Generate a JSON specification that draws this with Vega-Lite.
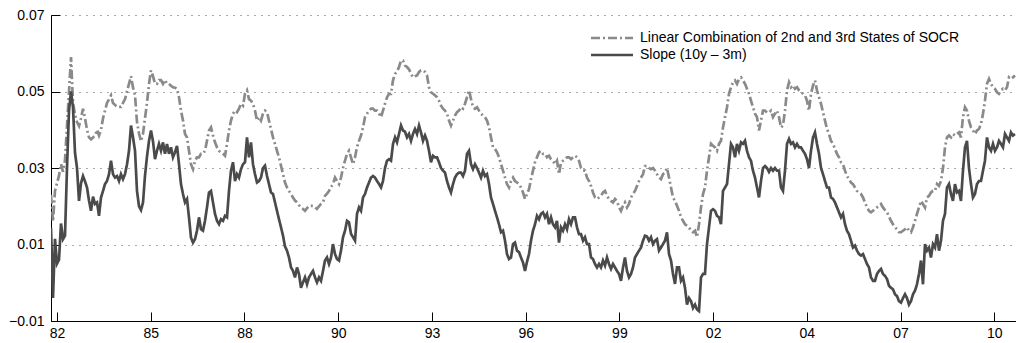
{
  "$schema": "https://vega.github.io/schema/vega-lite/v6.json",
  "width": 965,
  "height": 306,
  "autosize": {"type": "none"},
  "padding": {"left": 51, "top": 15, "right": 0, "bottom": 22},
  "background": "white",
  "config": {"view": {"stroke": null}, "font": "Liberation Sans"},
  "data": {"values": [
    {"t":1982.320,"s":0.0144,"c":0.023},{"t":1982.380,"s":-0.004,"c":0.016},{"t":1982.439,"s":0.0115,"c":0.024},{"t":1982.499,"s":0.005,"c":0.026},
    {"t":1982.559,"s":0.006,"c":0.028},{"t":1982.619,"s":0.0155,"c":0.031},{"t":1982.678,"s":0.0114,"c":0.029},{"t":1982.738,"s":0.0123,"c":0.032},
    {"t":1982.798,"s":0.030,"c":0.041},{"t":1982.858,"s":0.045,"c":0.050},{"t":1982.918,"s":0.050,"c":0.059},{"t":1982.977,"s":0.0459,"c":0.047},
    {"t":1983.037,"s":0.034,"c":0.044},{"t":1983.097,"s":0.030,"c":0.042},{"t":1983.157,"s":0.0214,"c":0.041},{"t":1983.216,"s":0.026,"c":0.043},
    {"t":1983.276,"s":0.0279,"c":0.0455},{"t":1983.336,"s":0.0265,"c":0.043},{"t":1983.396,"s":0.0249,"c":0.040},{"t":1983.455,"s":0.0215,"c":0.038},
    {"t":1983.515,"s":0.0188,"c":0.0375},{"t":1983.575,"s":0.0225,"c":0.038},{"t":1983.635,"s":0.0206,"c":0.0385},{"t":1983.694,"s":0.021,"c":0.040},
    {"t":1983.754,"s":0.0175,"c":0.0385},{"t":1983.814,"s":0.0223,"c":0.040},{"t":1983.874,"s":0.024,"c":0.043},{"t":1983.933,"s":0.0258,"c":0.045},
    {"t":1983.993,"s":0.0266,"c":0.047},{"t":1984.053,"s":0.0284,"c":0.048},{"t":1984.113,"s":0.0319,"c":0.049},{"t":1984.172,"s":0.0284,"c":0.047},
    {"t":1984.232,"s":0.0275,"c":0.0465},{"t":1984.292,"s":0.0279,"c":0.046},{"t":1984.352,"s":0.0266,"c":0.046},{"t":1984.411,"s":0.0284,"c":0.046},
    {"t":1984.471,"s":0.0271,"c":0.047},{"t":1984.531,"s":0.0284,"c":0.048},{"t":1984.591,"s":0.031,"c":0.050},{"t":1984.650,"s":0.0345,"c":0.052},
    {"t":1984.710,"s":0.0411,"c":0.054},{"t":1984.770,"s":0.038,"c":0.051},{"t":1984.830,"s":0.0345,"c":0.049},{"t":1984.889,"s":0.024,"c":0.042},
    {"t":1984.949,"s":0.020,"c":0.039},{"t":1985.009,"s":0.019,"c":0.037},{"t":1985.069,"s":0.021,"c":0.039},{"t":1985.128,"s":0.028,"c":0.043},
    {"t":1985.188,"s":0.033,"c":0.047},{"t":1985.248,"s":0.0371,"c":0.052},
    {"t":1985.307,"s":0.0398,"c":0.0555},{"t":1985.367,"s":0.037,"c":0.054},{"t":1985.427,"s":0.0323,"c":0.052},{"t":1985.486,"s":0.0345,"c":0.052},
    {"t":1985.546,"s":0.0363,"c":0.053},{"t":1985.606,"s":0.0345,"c":0.053},{"t":1985.666,"s":0.0367,"c":0.052},{"t":1985.725,"s":0.0337,"c":0.053},
    {"t":1985.785,"s":0.0363,"c":0.052},{"t":1985.845,"s":0.0337,"c":0.052},{"t":1985.905,"s":0.0354,"c":0.0515},{"t":1985.964,"s":0.0328,"c":0.0511},
    {"t":1986.024,"s":0.0341,"c":0.051},{"t":1986.084,"s":0.0358,"c":0.0507},{"t":1986.144,"s":0.031,"c":0.0485},{"t":1986.203,"s":0.0258,"c":0.045},
    {"t":1986.263,"s":0.0232,"c":0.0424},{"t":1986.323,"s":0.021,"c":0.0389},{"t":1986.383,"s":0.0219,"c":0.038},{"t":1986.442,"s":0.0171,"c":0.0345},
    {"t":1986.502,"s":0.0118,"c":0.031},{"t":1986.562,"s":0.0105,"c":0.0297},{"t":1986.622,"s":0.0114,"c":0.0319},{"t":1986.681,"s":0.0136,"c":0.0328},
    {"t":1986.741,"s":0.0171,"c":0.0328},{"t":1986.801,"s":0.014,"c":0.0337},{"t":1986.861,"s":0.0136,"c":0.0337},{"t":1986.920,"s":0.0162,"c":0.0345},
    {"t":1986.980,"s":0.0197,"c":0.0371},{"t":1987.040,"s":0.0236,"c":0.0398},{"t":1987.100,"s":0.024,"c":0.0406},{"t":1987.159,"s":0.021,"c":0.0385},
    {"t":1987.219,"s":0.018,"c":0.0367},{"t":1987.279,"s":0.0162,"c":0.0354},{"t":1987.339,"s":0.0153,"c":0.0345},{"t":1987.398,"s":0.0166,"c":0.0341},
    {"t":1987.458,"s":0.0162,"c":0.0337},{"t":1987.518,"s":0.0175,"c":0.0332},{"t":1987.578,"s":0.0171,"c":0.0363},{"t":1987.637,"s":0.024,"c":0.0398},
    {"t":1987.697,"s":0.0293,"c":0.0424},{"t":1987.757,"s":0.0315,"c":0.0442},{"t":1987.817,"s":0.0266,"c":0.045},{"t":1987.876,"s":0.0284,"c":0.0446},
    {"t":1987.936,"s":0.0275,"c":0.0455},{"t":1987.996,"s":0.0297,"c":0.0468},{"t":1988.056,"s":0.031,"c":0.0463},{"t":1988.115,"s":0.0315,"c":0.0494},
    {"t":1988.175,"s":0.038,"c":0.0503},{"t":1988.235,"s":0.0328,"c":0.048},
    {"t":1988.295,"s":0.0367,"c":0.0476},{"t":1988.354,"s":0.031,"c":0.0468},{"t":1988.414,"s":0.0284,"c":0.045},{"t":1988.474,"s":0.0262,"c":0.0424},
    {"t":1988.534,"s":0.0266,"c":0.0433},{"t":1988.593,"s":0.0275,"c":0.0424},{"t":1988.653,"s":0.030,"c":0.0442},{"t":1988.713,"s":0.0306,"c":0.045},
    {"t":1988.773,"s":0.0279,"c":0.0446},{"t":1988.832,"s":0.0258,"c":0.0424},{"t":1988.892,"s":0.0236,"c":0.0402},{"t":1988.952,"s":0.0232,"c":0.038},
    {"t":1989.012,"s":0.021,"c":0.0363},{"t":1989.071,"s":0.0188,"c":0.0345},{"t":1989.131,"s":0.0166,"c":0.0328},{"t":1989.191,"s":0.0145,"c":0.0306},
    {"t":1989.251,"s":0.0123,"c":0.0284},{"t":1989.310,"s":0.0095,"c":0.0262},{"t":1989.370,"s":0.0084,"c":0.0249},{"t":1989.430,"s":0.0066,"c":0.024},
    {"t":1989.490,"s":0.004,"c":0.0232},{"t":1989.549,"s":0.0031,"c":0.0223},{"t":1989.609,"s":0.0014,"c":0.0215},{"t":1989.669,"s":0.004,"c":0.021},
    {"t":1989.729,"s":0.0023,"c":0.0203},{"t":1989.788,"s":-0.0013,"c":0.0197},{"t":1989.848,"s":0.0001,"c":0.0193},{"t":1989.908,"s":0.0014,"c":0.0188},
    {"t":1989.968,"s":-0.0004,"c":0.0195},{"t":1990.027,"s":0.0014,"c":0.0201},{"t":1990.087,"s":0.0023,"c":0.0201},{"t":1990.147,"s":0.0031,"c":0.0201},
    {"t":1990.207,"s":0.0014,"c":0.0197},{"t":1990.266,"s":0.0001,"c":0.0193},{"t":1990.326,"s":0.0014,"c":0.020},{"t":1990.386,"s":0.0005,"c":0.0206},
    {"t":1990.446,"s":0.0031,"c":0.021},{"t":1990.505,"s":0.0058,"c":0.0227},{"t":1990.565,"s":0.0066,"c":0.0233},{"t":1990.625,"s":0.0049,"c":0.024},
    {"t":1990.685,"s":0.0066,"c":0.025},{"t":1990.744,"s":0.0101,"c":0.0258},{"t":1990.804,"s":0.0075,"c":0.0275},{"t":1990.864,"s":0.0062,"c":0.0266},
    {"t":1990.924,"s":0.0058,"c":0.0258},{"t":1990.983,"s":0.0084,"c":0.0275},{"t":1991.043,"s":0.0119,"c":0.030},{"t":1991.103,"s":0.0136,"c":0.0319},
    {"t":1991.163,"s":0.0162,"c":0.0337},{"t":1991.222,"s":0.0158,"c":0.0345},
    {"t":1991.282,"s":0.0128,"c":0.0328},{"t":1991.342,"s":0.0119,"c":0.031},{"t":1991.402,"s":0.011,"c":0.0328},{"t":1991.461,"s":0.018,"c":0.0354},
    {"t":1991.521,"s":0.0197,"c":0.0371},{"t":1991.581,"s":0.0188,"c":0.0385},{"t":1991.641,"s":0.0223,"c":0.0406},{"t":1991.700,"s":0.0232,"c":0.0433},
    {"t":1991.760,"s":0.0249,"c":0.0442},{"t":1991.820,"s":0.0262,"c":0.045},{"t":1991.880,"s":0.0275,"c":0.0455},{"t":1991.939,"s":0.0279,"c":0.0455},
    {"t":1991.999,"s":0.0275,"c":0.045},{"t":1992.059,"s":0.0266,"c":0.045},{"t":1992.119,"s":0.0258,"c":0.0442},{"t":1992.178,"s":0.0249,"c":0.0433},
    {"t":1992.238,"s":0.0266,"c":0.045},{"t":1992.298,"s":0.030,"c":0.0468},{"t":1992.358,"s":0.0319,"c":0.0485},{"t":1992.417,"s":0.0323,"c":0.0494},
    {"t":1992.477,"s":0.0319,"c":0.0494},{"t":1992.537,"s":0.0363,"c":0.0529},{"t":1992.597,"s":0.038,"c":0.0546},{"t":1992.656,"s":0.0367,"c":0.0551},
    {"t":1992.716,"s":0.0389,"c":0.0564},{"t":1992.776,"s":0.0411,"c":0.0581},{"t":1992.836,"s":0.0398,"c":0.0581},{"t":1992.895,"s":0.0395,"c":0.0568},
    {"t":1992.955,"s":0.038,"c":0.0564},{"t":1993.015,"s":0.0389,"c":0.0558},{"t":1993.075,"s":0.0371,"c":0.0546},{"t":1993.134,"s":0.0389,"c":0.0537},
    {"t":1993.194,"s":0.0402,"c":0.054},{"t":1993.254,"s":0.0389,"c":0.0542},{"t":1993.314,"s":0.0411,"c":0.0551},{"t":1993.373,"s":0.0393,"c":0.0555},
    {"t":1993.433,"s":0.0371,"c":0.0555},{"t":1993.493,"s":0.0385,"c":0.0551},{"t":1993.553,"s":0.0371,"c":0.0542},{"t":1993.612,"s":0.0345,"c":0.0511},
    {"t":1993.672,"s":0.0315,"c":0.0498},{"t":1993.732,"s":0.0332,"c":0.0494},{"t":1993.792,"s":0.0328,"c":0.049},{"t":1993.851,"s":0.0328,"c":0.0485},
    {"t":1993.911,"s":0.0315,"c":0.0476},{"t":1993.971,"s":0.030,"c":0.0463},{"t":1994.031,"s":0.0293,"c":0.0455},{"t":1994.090,"s":0.0288,"c":0.045},
    {"t":1994.150,"s":0.0266,"c":0.0442},{"t":1994.210,"s":0.0249,"c":0.0424},
    {"t":1994.269,"s":0.0236,"c":0.0411},{"t":1994.329,"s":0.0258,"c":0.0424},{"t":1994.389,"s":0.0275,"c":0.0437},{"t":1994.449,"s":0.0284,"c":0.0446},
    {"t":1994.508,"s":0.0288,"c":0.045},{"t":1994.568,"s":0.0288,"c":0.0459},{"t":1994.628,"s":0.0279,"c":0.0455},{"t":1994.688,"s":0.0293,"c":0.0468},
    {"t":1994.747,"s":0.0337,"c":0.0485},{"t":1994.807,"s":0.0345,"c":0.0503},{"t":1994.867,"s":0.031,"c":0.048},{"t":1994.927,"s":0.0297,"c":0.0459},
    {"t":1994.986,"s":0.031,"c":0.0455},{"t":1995.046,"s":0.030,"c":0.0459},{"t":1995.106,"s":0.0288,"c":0.045},{"t":1995.166,"s":0.0275,"c":0.0442},
    {"t":1995.225,"s":0.0293,"c":0.0437},{"t":1995.285,"s":0.0279,"c":0.0433},{"t":1995.345,"s":0.0284,"c":0.0424},{"t":1995.405,"s":0.0258,"c":0.0406},
    {"t":1995.464,"s":0.0223,"c":0.038},{"t":1995.524,"s":0.0206,"c":0.0354},{"t":1995.584,"s":0.0188,"c":0.035},{"t":1995.644,"s":0.0171,"c":0.0341},
    {"t":1995.703,"s":0.0153,"c":0.0328},{"t":1995.763,"s":0.0132,"c":0.031},{"t":1995.823,"s":0.0136,"c":0.0293},{"t":1995.883,"s":0.011,"c":0.0275},
    {"t":1995.942,"s":0.0075,"c":0.0258},{"t":1996.002,"s":0.0062,"c":0.0249},{"t":1996.062,"s":0.0066,"c":0.0266},{"t":1996.122,"s":0.0101,"c":0.0275},
    {"t":1996.181,"s":0.0105,"c":0.0266},{"t":1996.241,"s":0.0084,"c":0.0262},{"t":1996.301,"s":0.008,"c":0.0258},{"t":1996.361,"s":0.0066,"c":0.0249},
    {"t":1996.420,"s":0.0053,"c":0.0236},{"t":1996.480,"s":0.0031,"c":0.0219},{"t":1996.540,"s":0.0055,"c":0.0232},{"t":1996.600,"s":0.0075,"c":0.0245},
    {"t":1996.659,"s":0.011,"c":0.0271},{"t":1996.719,"s":0.0136,"c":0.0293},{"t":1996.779,"s":0.0153,"c":0.0315},{"t":1996.839,"s":0.0175,"c":0.0328},
    {"t":1996.898,"s":0.0166,"c":0.0341},{"t":1996.958,"s":0.018,"c":0.0345},{"t":1997.018,"s":0.0184,"c":0.0337},{"t":1997.078,"s":0.0171,"c":0.0337},
    {"t":1997.137,"s":0.018,"c":0.0328},{"t":1997.197,"s":0.0153,"c":0.0332},
    {"t":1997.257,"s":0.0171,"c":0.0323},{"t":1997.316,"s":0.0153,"c":0.0319},{"t":1997.376,"s":0.0145,"c":0.031},{"t":1997.436,"s":0.0162,"c":0.0319},
    {"t":1997.496,"s":0.0105,"c":0.0284},{"t":1997.555,"s":0.0145,"c":0.0315},{"t":1997.615,"s":0.0136,"c":0.0319},{"t":1997.675,"s":0.0153,"c":0.0323},
    {"t":1997.735,"s":0.014,"c":0.0328},{"t":1997.794,"s":0.0166,"c":0.0328},{"t":1997.854,"s":0.0153,"c":0.0323},{"t":1997.914,"s":0.0171,"c":0.0328},
    {"t":1997.974,"s":0.0171,"c":0.0332},{"t":1998.033,"s":0.0145,"c":0.0328},{"t":1998.093,"s":0.0127,"c":0.0319},{"t":1998.153,"s":0.0127,"c":0.030},
    {"t":1998.213,"s":0.011,"c":0.0293},{"t":1998.272,"s":0.0119,"c":0.0293},{"t":1998.332,"s":0.0101,"c":0.0275},{"t":1998.392,"s":0.0101,"c":0.0266},
    {"t":1998.452,"s":0.0066,"c":0.0253},{"t":1998.511,"s":0.0062,"c":0.0236},{"t":1998.571,"s":0.0049,"c":0.0223},{"t":1998.631,"s":0.004,"c":0.0219},
    {"t":1998.691,"s":0.0049,"c":0.0223},{"t":1998.750,"s":0.004,"c":0.0227},{"t":1998.810,"s":0.0058,"c":0.0236},{"t":1998.870,"s":0.0045,"c":0.024},
    {"t":1998.930,"s":0.0066,"c":0.0227},{"t":1998.989,"s":0.0049,"c":0.0219},{"t":1999.049,"s":0.0036,"c":0.0214},{"t":1999.109,"s":0.0049,"c":0.021},
    {"t":1999.169,"s":0.004,"c":0.0219},{"t":1999.228,"s":0.0031,"c":0.0214},{"t":1999.288,"s":0.0023,"c":0.0197},{"t":1999.348,"s":0.0005,"c":0.0188},
    {"t":1999.408,"s":0.004,"c":0.0201},{"t":1999.467,"s":0.0066,"c":0.021},{"t":1999.527,"s":0.0031,"c":0.0197},{"t":1999.587,"s":0.0014,"c":0.0206},
    {"t":1999.647,"s":0.0023,"c":0.0223},{"t":1999.706,"s":0.004,"c":0.0232},{"t":1999.766,"s":0.0066,"c":0.024},{"t":1999.826,"s":0.0075,"c":0.0253},
    {"t":1999.886,"s":0.0084,"c":0.0266},{"t":1999.945,"s":0.0092,"c":0.0275},{"t":2000.005,"s":0.011,"c":0.0284},{"t":2000.065,"s":0.0123,"c":0.0305},
    {"t":2000.125,"s":0.0121,"c":0.0306},{"t":2000.184,"s":0.011,"c":0.030},
    {"t":2000.244,"s":0.0119,"c":0.0297},{"t":2000.304,"s":0.0101,"c":0.030},{"t":2000.364,"s":0.011,"c":0.0293},{"t":2000.423,"s":0.0114,"c":0.0284},
    {"t":2000.483,"s":0.0084,"c":0.0275},{"t":2000.543,"s":0.0092,"c":0.0271},{"t":2000.603,"s":0.0101,"c":0.0284},{"t":2000.662,"s":0.011,"c":0.0288},
    {"t":2000.722,"s":0.0132,"c":0.030},{"t":2000.782,"s":0.0075,"c":0.0275},{"t":2000.842,"s":0.0058,"c":0.0249},{"t":2000.901,"s":0.0023,"c":0.0223},
    {"t":2000.961,"s":-0.0003,"c":0.0214},{"t":2001.021,"s":0.004,"c":0.0201},{"t":2001.081,"s":0.004,"c":0.0188},{"t":2001.140,"s":0.0005,"c":0.0171},
    {"t":2001.200,"s":0.0014,"c":0.0162},{"t":2001.260,"s":-0.0013,"c":0.0153},{"t":2001.320,"s":-0.0057,"c":0.0149},{"t":2001.379,"s":-0.004,"c":0.0145},
    {"t":2001.439,"s":-0.0048,"c":0.0136},{"t":2001.499,"s":-0.0066,"c":0.0132},{"t":2001.559,"s":-0.0057,"c":0.0136},{"t":2001.618,"s":-0.007,"c":0.0119},
    {"t":2001.678,"s":-0.0074,"c":0.0153},{"t":2001.738,"s":0.0014,"c":0.0197},{"t":2001.798,"s":0.0023,"c":0.0232},{"t":2001.857,"s":0.0023,"c":0.0249},
    {"t":2001.917,"s":0.0101,"c":0.0293},{"t":2001.977,"s":0.0145,"c":0.0328},{"t":2002.037,"s":0.0188,"c":0.0363},{"t":2002.096,"s":0.0192,"c":0.0358},
    {"t":2002.156,"s":0.0188,"c":0.0354},{"t":2002.216,"s":0.0175,"c":0.0345},{"t":2002.276,"s":0.0171,"c":0.0363},{"t":2002.335,"s":0.0153,"c":0.0371},
    {"t":2002.395,"s":0.024,"c":0.0406},{"t":2002.455,"s":0.0249,"c":0.0433},{"t":2002.515,"s":0.0258,"c":0.0459},{"t":2002.574,"s":0.031,"c":0.0494},
    {"t":2002.634,"s":0.0363,"c":0.0511},{"t":2002.694,"s":0.0354,"c":0.0524},{"t":2002.754,"s":0.0328,"c":0.0529},{"t":2002.813,"s":0.0363,"c":0.052},
    {"t":2002.873,"s":0.0345,"c":0.0533},{"t":2002.933,"s":0.0367,"c":0.0537},{"t":2002.993,"s":0.0363,"c":0.0529},{"t":2003.052,"s":0.0371,"c":0.052},
    {"t":2003.112,"s":0.0345,"c":0.0507},{"t":2003.172,"s":0.0328,"c":0.0494},
    {"t":2003.231,"s":0.0319,"c":0.0476},{"t":2003.291,"s":0.0293,"c":0.0459},{"t":2003.351,"s":0.0275,"c":0.0442},{"t":2003.411,"s":0.0249,"c":0.0433},
    {"t":2003.470,"s":0.0223,"c":0.0398},{"t":2003.530,"s":0.0266,"c":0.0424},{"t":2003.590,"s":0.030,"c":0.045},{"t":2003.650,"s":0.0305,"c":0.045},
    {"t":2003.709,"s":0.030,"c":0.0445},{"t":2003.769,"s":0.029,"c":0.0445},{"t":2003.829,"s":0.030,"c":0.045},{"t":2003.889,"s":0.0293,"c":0.0433},
    {"t":2003.948,"s":0.030,"c":0.0442},{"t":2004.008,"s":0.0293,"c":0.045},{"t":2004.068,"s":0.0293,"c":0.0433},{"t":2004.128,"s":0.0249,"c":0.0406},
    {"t":2004.187,"s":0.024,"c":0.0411},{"t":2004.247,"s":0.0293,"c":0.045},{"t":2004.307,"s":0.0363,"c":0.0503},{"t":2004.367,"s":0.0376,"c":0.0524},
    {"t":2004.426,"s":0.0363,"c":0.0511},{"t":2004.486,"s":0.0367,"c":0.0516},{"t":2004.546,"s":0.0354,"c":0.0507},{"t":2004.606,"s":0.0363,"c":0.0511},
    {"t":2004.665,"s":0.0354,"c":0.0503},{"t":2004.725,"s":0.0354,"c":0.0498},{"t":2004.785,"s":0.0345,"c":0.0494},{"t":2004.845,"s":0.0337,"c":0.049},
    {"t":2004.904,"s":0.0323,"c":0.0476},{"t":2004.964,"s":0.030,"c":0.045},{"t":2005.024,"s":0.0345,"c":0.0494},{"t":2005.084,"s":0.038,"c":0.0516},
    {"t":2005.143,"s":0.0393,"c":0.0529},{"t":2005.203,"s":0.0363,"c":0.0503},{"t":2005.263,"s":0.0337,"c":0.0485},{"t":2005.323,"s":0.030,"c":0.0468},
    {"t":2005.382,"s":0.0284,"c":0.0446},{"t":2005.442,"s":0.0266,"c":0.0424},{"t":2005.502,"s":0.0249,"c":0.0402},{"t":2005.562,"s":0.0249,"c":0.0389},
    {"t":2005.621,"s":0.0223,"c":0.0371},{"t":2005.681,"s":0.0219,"c":0.0363},{"t":2005.741,"s":0.021,"c":0.035},{"t":2005.801,"s":0.0197,"c":0.0337},
    {"t":2005.860,"s":0.0184,"c":0.0328},{"t":2005.920,"s":0.0171,"c":0.0315},{"t":2005.980,"s":0.018,"c":0.031},{"t":2006.040,"s":0.0153,"c":0.0293},
    {"t":2006.099,"s":0.0136,"c":0.0279},{"t":2006.159,"s":0.0127,"c":0.0271},
    {"t":2006.218,"s":0.011,"c":0.0262},{"t":2006.278,"s":0.0092,"c":0.0258},{"t":2006.338,"s":0.0097,"c":0.0249},{"t":2006.398,"s":0.0084,"c":0.024},
    {"t":2006.457,"s":0.0075,"c":0.0236},{"t":2006.517,"s":0.0071,"c":0.0232},{"t":2006.577,"s":0.0075,"c":0.0223},{"t":2006.637,"s":0.0062,"c":0.021},
    {"t":2006.696,"s":0.0049,"c":0.0197},{"t":2006.756,"s":0.004,"c":0.0188},{"t":2006.816,"s":0.0014,"c":0.0184},{"t":2006.876,"s":0.0005,"c":0.0188},
    {"t":2006.935,"s":0.0005,"c":0.0193},{"t":2006.995,"s":0.0023,"c":0.0197},{"t":2007.055,"s":0.0031,"c":0.0201},{"t":2007.115,"s":0.0036,"c":0.0206},
    {"t":2007.174,"s":0.0023,"c":0.0197},{"t":2007.234,"s":0.0018,"c":0.019},{"t":2007.294,"s":0.001,"c":0.0185},{"t":2007.354,"s":-0.0008,"c":0.0173},
    {"t":2007.413,"s":-0.0013,"c":0.0162},{"t":2007.473,"s":-0.0017,"c":0.0153},{"t":2007.533,"s":-0.003,"c":0.0145},{"t":2007.593,"s":-0.0035,"c":0.014},
    {"t":2007.652,"s":-0.0048,"c":0.0132},{"t":2007.712,"s":-0.0052,"c":0.0132},{"t":2007.772,"s":-0.004,"c":0.0136},{"t":2007.832,"s":-0.003,"c":0.014},
    {"t":2007.891,"s":-0.004,"c":0.0145},{"t":2007.951,"s":-0.0057,"c":0.0136},{"t":2008.011,"s":-0.0048,"c":0.0132},{"t":2008.071,"s":-0.003,"c":0.0145},
    {"t":2008.130,"s":-0.0021,"c":0.0162},{"t":2008.190,"s":-0.0004,"c":0.018},{"t":2008.250,"s":0.0023,"c":0.0197},{"t":2008.310,"s":0.0058,"c":0.0214},
    {"t":2008.369,"s":-0.0004,"c":0.0206},{"t":2008.429,"s":0.0101,"c":0.0197},{"t":2008.489,"s":0.0084,"c":0.0223},{"t":2008.549,"s":0.0092,"c":0.0227},
    {"t":2008.608,"s":0.0066,"c":0.0236},{"t":2008.668,"s":0.0101,"c":0.024},{"t":2008.728,"s":0.0092,"c":0.024},{"t":2008.788,"s":0.0127,"c":0.0258},
    {"t":2008.847,"s":0.0084,"c":0.0253},{"t":2008.907,"s":0.011,"c":0.0266},{"t":2008.967,"s":0.0162,"c":0.030},{"t":2009.027,"s":0.018,"c":0.0354},
    {"t":2009.086,"s":0.0249,"c":0.038},{"t":2009.146,"s":0.0258,"c":0.0385},
    {"t":2009.206,"s":0.0232,"c":0.038},{"t":2009.265,"s":0.0214,"c":0.0389},{"t":2009.325,"s":0.0258,"c":0.0385},{"t":2009.385,"s":0.0236,"c":0.0389},
    {"t":2009.445,"s":0.024,"c":0.0393},{"t":2009.504,"s":0.0214,"c":0.038},{"t":2009.564,"s":0.0293,"c":0.0433},{"t":2009.624,"s":0.0354,"c":0.0459},
    {"t":2009.684,"s":0.0371,"c":0.045},{"t":2009.743,"s":0.030,"c":0.0424},{"t":2009.803,"s":0.0258,"c":0.0406},{"t":2009.863,"s":0.0223,"c":0.0398},
    {"t":2009.923,"s":0.0232,"c":0.0389},{"t":2009.982,"s":0.0258,"c":0.0398},{"t":2010.042,"s":0.0266,"c":0.0402},{"t":2010.102,"s":0.0266,"c":0.0415},
    {"t":2010.162,"s":0.0293,"c":0.0442},{"t":2010.221,"s":0.0319,"c":0.0476},{"t":2010.281,"s":0.038,"c":0.052},{"t":2010.341,"s":0.0354,"c":0.0533},
    {"t":2010.401,"s":0.0345,"c":0.052},{"t":2010.460,"s":0.0363,"c":0.0511},{"t":2010.520,"s":0.0345,"c":0.0507},{"t":2010.580,"s":0.0354,"c":0.0498},
    {"t":2010.640,"s":0.0371,"c":0.0494},{"t":2010.699,"s":0.0363,"c":0.0503},{"t":2010.759,"s":0.0354,"c":0.0507},{"t":2010.819,"s":0.0389,"c":0.0503},
    {"t":2010.879,"s":0.038,"c":0.0511},{"t":2010.938,"s":0.0371,"c":0.0537},{"t":2010.998,"s":0.0393,"c":0.0533},{"t":2011.058,"s":0.0385,"c":0.0537},
    {"t":2011.118,"s":0.0389,"c":0.0542}
  ]},
  "transform": [{"fold": ["c", "s"], "as": ["key", "v"]}],
  "mark": {"type": "line", "strokeWidth": 2.7, "clip": true},
  "encoding": {
    "x": {
      "field": "t", "type": "quantitative",
      "scale": {"domain": [1982.32, 2011.148], "nice": false, "zero": false},
      "axis": {
        "title": null,
        "values": [1982.5, 1985.3, 1988.1, 1990.9, 1993.7, 1996.5, 1999.3, 2002.1, 2004.9, 2007.7, 2010.5],
        "labelExpr": "(floor(datum.value) % 100 < 10 ? '0' : '') + (floor(datum.value) % 100)",
        "grid": false,
        "domain": true, "domainColor": "#000000", "domainWidth": 1,
        "ticks": true, "tickSize": -9, "tickColor": "#000000", "tickWidth": 1,
        "labelFont": "Liberation Sans", "labelFontSize": 14, "labelColor": "#000000",
        "labelPadding": 14, "labelFlush": false, "labelOverlap": false, "labelBound": false
      }
    },
    "y": {
      "field": "v", "type": "quantitative",
      "scale": {"domain": [-0.01, 0.07], "nice": false, "zero": false},
      "axis": {
        "title": null,
        "values": [-0.01, 0.01, 0.03, 0.05, 0.07],
        "format": ".2f",
        "grid": true, "gridDash": [1, 6], "gridColor": "#555555", "gridWidth": 1,
        "domain": true, "domainColor": "#000000", "domainWidth": 1,
        "ticks": true, "tickSize": -9, "tickColor": "#000000", "tickWidth": 1,
        "labelFont": "Liberation Sans", "labelFontSize": 14, "labelColor": "#000000",
        "labelPadding": 16, "labelFlush": false, "labelOverlap": false, "labelBound": false
      }
    },
    "color": {
      "field": "key", "type": "nominal",
      "scale": {"domain": ["c", "s"], "range": ["#8a8a8a", "#4a4a4a"]},
      "legend": {
        "orient": "none", "legendX": 552, "legendY": 14, "title": null, "padding": 0,
        "labelExpr": "datum.value == 'c' ? 'Linear Combination of 2nd and 3rd States of SOCR' : 'Slope (10y – 3m)'",
        "labelFont": "Liberation Sans", "labelFontSize": 14, "labelColor": "#000000", "labelLimit": 0,
        "symbolType": "M-2.8,0H2.8", "symbolSize": 225, "symbolStrokeWidth": 2.5,
        "labelOffset": 19, "rowPadding": 1
      }
    },
    "strokeDash": {
      "field": "key", "type": "nominal",
      "scale": {"domain": ["c", "s"], "range": [[9, 3, 2, 3], [1, 0]]},
      "legend": {
        "orient": "none", "legendX": 552, "legendY": 14, "title": null, "padding": 0,
        "labelExpr": "datum.value == 'c' ? 'Linear Combination of 2nd and 3rd States of SOCR' : 'Slope (10y – 3m)'",
        "labelFont": "Liberation Sans", "labelFontSize": 14, "labelColor": "#000000", "labelLimit": 0,
        "symbolType": "M-2.8,0H2.8", "symbolSize": 225, "symbolStrokeWidth": 2.5,
        "labelOffset": 19, "rowPadding": 1
      }
    }
  }
}
